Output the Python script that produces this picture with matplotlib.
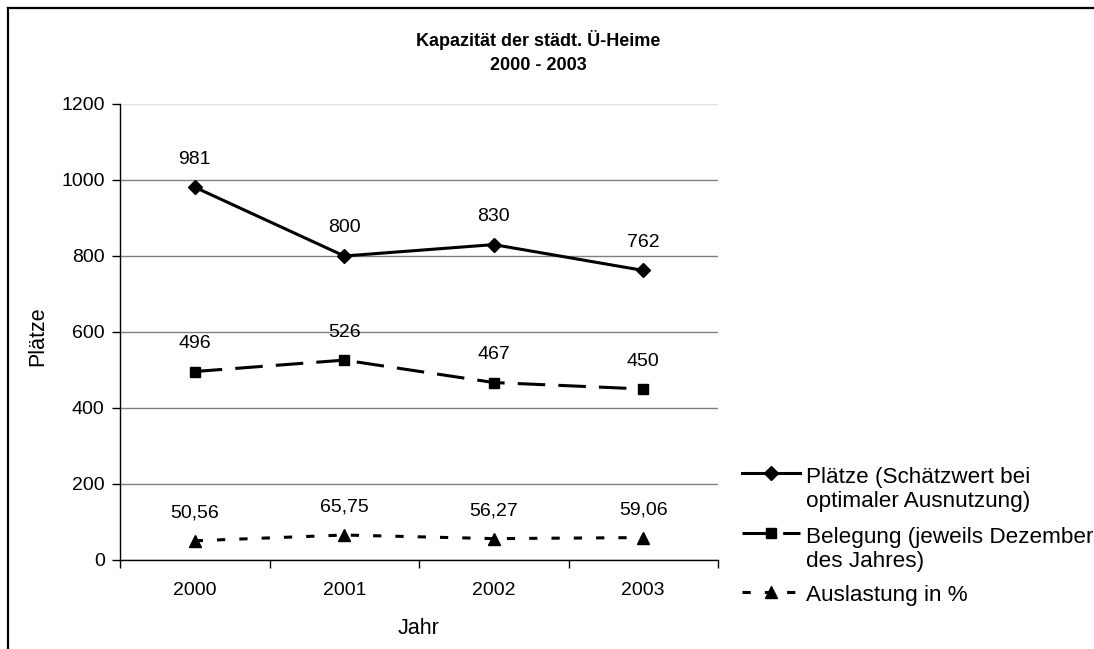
import matplotlib
matplotlib.use("Agg")
import matplotlib.pyplot as plt
from matplotlib.lines import Line2D

plt.rcParams['font.family'] = ['Liberation Sans', 'DejaVu Sans']

# Kapazität der städtischen Übergangswohnheime
jahre = ['2000', '2001', '2002', '2003']
plaetze = [981, 800, 830, 762]
belegung = [496, 526, 467, 450]
auslastung = [50.56, 65.75, 56.27, 59.06]

W, H = 1094, 649
fig = plt.figure(figsize=(W / 100, H / 100), dpi=100)


def fx(px):
    return px / W


def fy(py):
    return 1 - py / H


ax = fig.add_axes([fx(120), fy(560), fx(718) - fx(120), fy(104) - fy(560)])

x = range(len(jahre))
lw = 2.2
ax.plot(x, plaetze, color='black', lw=lw, marker='D', ms=7, zorder=3)
ax.plot(x, belegung, color='black', lw=lw, marker='s', ms=7,
        dashes=(9, 4.3), zorder=3)
ax.plot(x, auslastung, color='black', lw=lw, marker='^', ms=8,
        dashes=(2.7, 4.6), zorder=3)

def fmt(v):
    return f"{v:.2f}".replace('.', ',') if v != int(v) else str(int(v))

for serie in (plaetze, belegung, auslastung):
    for i, v in enumerate(serie):
        ax.annotate(fmt(v), (i, v), xytext=(0, 28), textcoords='offset pixels',
                    ha='center', va='center', fontsize=14)

ax.set_xlim(-0.5, len(jahre) - 0.5)
ax.set_ylim(0, 1200)
ax.set_yticks(range(0, 1201, 200))
ax.set_xticks(list(x))
ax.set_xticklabels(jahre)
ax.set_xticks([i - 0.5 for i in range(len(jahre) + 1)], minor=True)
ax.tick_params(axis='x', which='major', length=0, pad=16, labelsize=14)
ax.tick_params(axis='x', which='minor', length=6, width=1, direction='out')
ax.tick_params(axis='y', length=6, width=1, pad=5, labelsize=14)

ax.grid(axis='y', color='#808080', lw=1)
ax.set_axisbelow(True)
ax.get_ygridlines()[-1].set_color('#e4e4e4')
for s in ('top', 'right'):
    ax.spines[s].set_visible(False)
for s in ('left', 'bottom'):
    ax.spines[s].set_linewidth(1)

ax.set_ylabel('Plätze', fontsize=15.5)
ax.yaxis.set_label_coords(-0.12, 0.49)
ax.set_xlabel('Jahr', fontsize=15.5)
ax.xaxis.set_label_coords(0.5, -0.127)

fig.text(fx(538), fy(40), 'Kapazität der städt. Ü-Heime', ha='center',
         va='center', fontsize=13, fontweight='bold')
fig.text(fx(538), fy(65), '2000 - 2003', ha='center', va='center',
         fontsize=13, fontweight='bold')

# Legende
legende = [
    (473, ['Plätze (Schätzwert bei', 'optimaler Ausnutzung)'], 'D', 7, None),
    (533, ['Belegung (jeweils Dezember', 'des Jahres)'], 's', 7, (9, 4.3)),
    (592, ['Auslastung in %'], '^', 8, (2.7, 4.6)),
]
for ly, zeilen, m, ms, d in legende:
    kw = {'dashes': d} if d else {}
    fig.add_artist(Line2D([fx(742), fx(771), fx(800)], [fy(ly)] * 3,
                          transform=fig.transFigure, color='black', lw=lw,
                          marker=m, ms=ms, markevery=[1], **kw))
    for k, t in enumerate(zeilen):
        fig.text(fx(806), fy(ly + 4 + 25 * k), t, ha='left', va='center',
                 fontsize=16.2)

# Rahmen oben und links
fig.add_artist(Line2D([fx(8), 1], [fy(8), fy(8)], transform=fig.transFigure,
                      color='black', lw=1.6))
fig.add_artist(Line2D([fx(8), fx(8)], [fy(8), 0], transform=fig.transFigure,
                      color='black', lw=1.6))

fig.savefig('out.png', dpi=100)
